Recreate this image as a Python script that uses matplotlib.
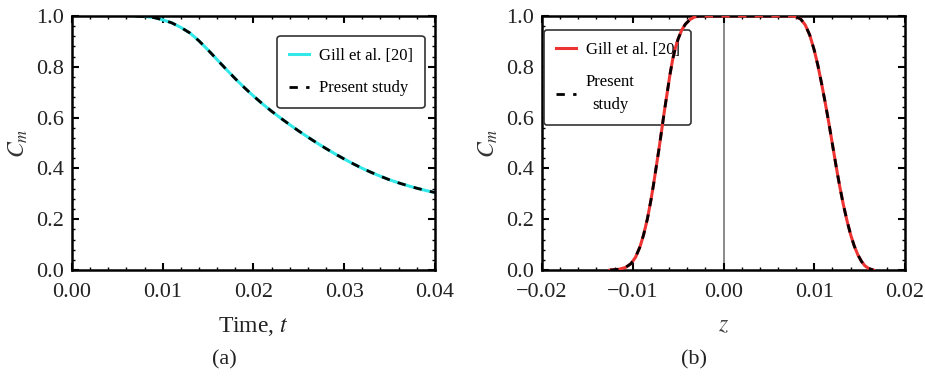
import numpy as np
import matplotlib
matplotlib.use("Agg")
import matplotlib.pyplot as plt
from matplotlib.ticker import MultipleLocator

plt.rcParams['font.family'] = ['Liberation Serif', 'DejaVu Serif']
plt.rcParams['mathtext.fontset'] = 'stix'

# (a) C_m against time
t_vals = [0.007, 0.008, 0.009, 0.010, 0.011, 0.012, 0.013, 0.014, 0.015, 0.016,
          0.017, 0.018, 0.019, 0.020, 0.021, 0.022, 0.023, 0.024, 0.025, 0.026,
          0.027, 0.028, 0.029, 0.030, 0.031, 0.032, 0.033, 0.034, 0.035, 0.036,
          0.037, 0.038, 0.039, 0.040]
cm_t = [1.0, 0.998, 0.994, 0.985, 0.973, 0.955, 0.933, 0.902, 0.866, 0.828,
        0.790, 0.753, 0.718, 0.685, 0.654, 0.625, 0.598, 0.572, 0.547, 0.523,
        0.500, 0.478, 0.457, 0.437, 0.418, 0.400, 0.384, 0.369, 0.355, 0.343,
        0.332, 0.322, 0.313, 0.305]

# (b) C_m against z
z_vals = [-0.0125, -0.0115, -0.0108, -0.0102, -0.0097, -0.0092, -0.0088, -0.0084,
          -0.0080, -0.0077, -0.0074, -0.0071, -0.0068, -0.0065, -0.0062, -0.0059,
          -0.0056, -0.0053, -0.0050, -0.0046, -0.0042, -0.0037, -0.0032, -0.0026,
          0.0, 0.0050, 0.0075, 0.0080, 0.0085, 0.0090, 0.0095, 0.0100, 0.0104,
          0.0108, 0.0112, 0.0116, 0.0120, 0.0124, 0.0128, 0.0132, 0.0136, 0.0140,
          0.0144, 0.0148, 0.0152, 0.0156, 0.0160, 0.0165]
cm_z = [0.0, 0.003, 0.010, 0.025, 0.050, 0.092, 0.140, 0.200,
        0.275, 0.340, 0.410, 0.480, 0.555, 0.630, 0.700, 0.770,
        0.830, 0.875, 0.910, 0.945, 0.968, 0.986, 0.996, 1.0,
        1.0, 1.0, 1.0, 0.997, 0.988, 0.965, 0.925, 0.865, 0.805,
        0.735, 0.660, 0.580, 0.495, 0.410, 0.330, 0.258, 0.195, 0.140,
        0.095, 0.060, 0.034, 0.016, 0.006, 0.0]

fig = plt.figure(figsize=(9.25, 3.78), dpi=100)
ax1 = fig.add_axes([0.0778, 0.2857, 0.3924, 0.672])
ax2 = fig.add_axes([0.586, 0.2857, 0.3924, 0.672])


def style(ax, xmaj, xmin):
    ax.xaxis.set_major_locator(MultipleLocator(xmaj))
    ax.xaxis.set_minor_locator(MultipleLocator(xmin))
    ax.yaxis.set_major_locator(MultipleLocator(0.2))
    ax.yaxis.set_minor_locator(MultipleLocator(0.04))
    ax.set_ylim(0, 1)
    ax.tick_params(which='both', direction='in', top=True, right=True,
                   colors='black', labelcolor='#222222', labelsize=16)
    ax.tick_params(which='major', length=5, width=1.5)
    ax.tick_params(which='minor', length=2.5, width=1.0)
    ax.tick_params(axis='x', which='major', pad=9)
    ax.tick_params(axis='y', which='major', pad=6)
    for s in ax.spines.values():
        s.set_linewidth(1.8)
    ax.set_ylabel('$C_m$', fontsize=17, color='#333333', labelpad=4)


legend_kw = dict(fontsize=12, frameon=True, fancybox=True, edgecolor='#333333',
                 framealpha=1, handlelength=1.2, handletextpad=0.6,
                 borderpad=0.7, borderaxespad=0)

style(ax1, 0.01, 0.002)
ax1.set_xlim(0, 0.04)
ax1.xaxis.set_major_formatter(lambda v, p: f'{v:.2f}')
ax1.yaxis.set_major_formatter(lambda v, p: f'{v:.1f}')
ax1.plot(t_vals, cm_t, color='#33e8e8', lw=2.2, label='Gill et al. [20]')
ax1.plot(t_vals, cm_t, color='black', lw=2.0, ls=(0, (3, 3)), label='Present study')
ax1.set_xlabel('Time, $t$', fontsize=17, color='#222222', labelpad=10)
leg1 = ax1.legend(loc='upper right', bbox_to_anchor=(0.972, 0.921),
                  labelspacing=1.0, **legend_kw)
leg1.get_frame().set_linewidth(1.2)

style(ax2, 0.01, 0.002)
ax2.set_xlim(-0.02, 0.02)
ax2.xaxis.set_major_formatter(lambda v, p: f'{v:.2f}'.replace('-', '\u2212'))
ax2.yaxis.set_major_formatter(lambda v, p: f'{v:.1f}')
ax2.axvline(0, color='#777777', lw=1.2, zorder=1)
ax2.plot(z_vals, cm_z, color='#ee3333', lw=2.2, label='Gill et al. [20]', zorder=4)
ax2.plot(z_vals, cm_z, color='black', lw=2.0, ls=(0, (3, 3)), label='Present\nstudy',
         zorder=4)
ax2.set_xlabel('$z$', fontsize=17, color='#444444', labelpad=10)
leg2 = ax2.legend(loc='upper left', bbox_to_anchor=(0.005, 0.945),
                  labelspacing=1.0, **legend_kw)
leg2.get_frame().set_linewidth(1.2)
leg2.set_zorder(3)
for txt in leg2.get_texts():
    txt.set_multialignment('center')
    txt.set_linespacing(1.6)

fig.text(0.243, 0.035, '(a)', fontsize=16, ha='center', color='#222222')
fig.text(0.75, 0.035, '(b)', fontsize=16, ha='center', color='#222222')

fig.savefig('out.png', dpi=100)
